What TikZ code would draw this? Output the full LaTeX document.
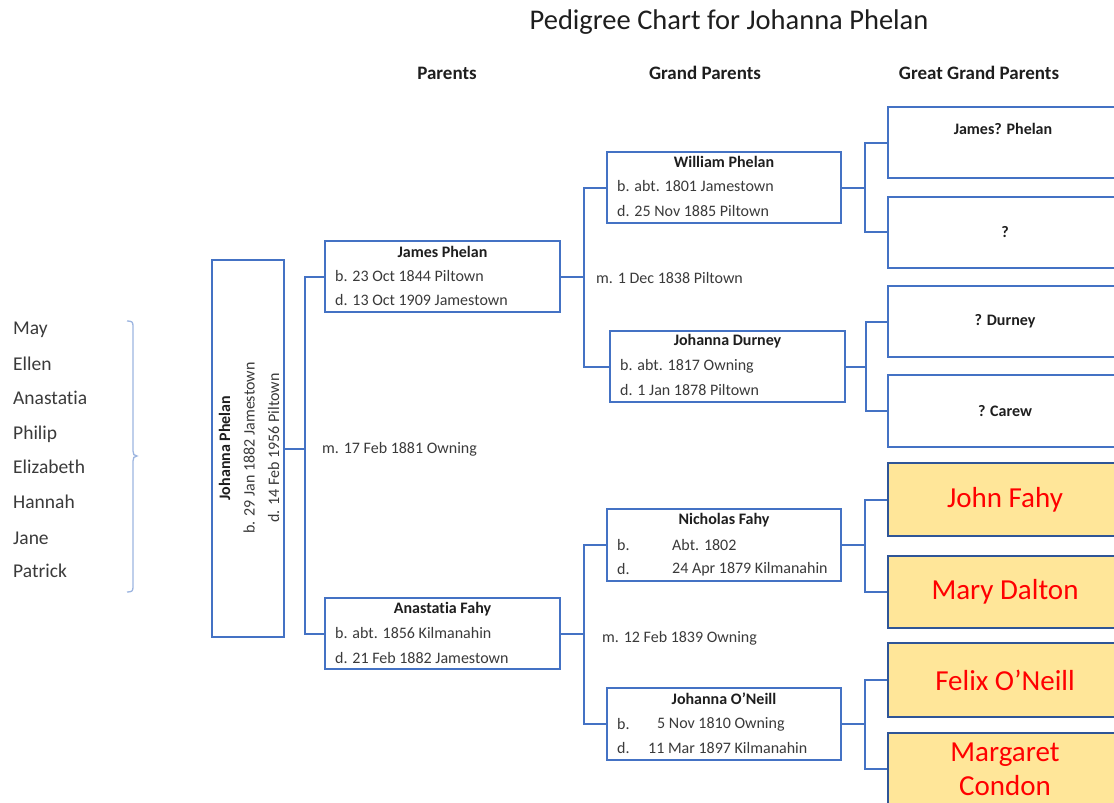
\documentclass[tikz,border=0pt]{standalone}
\usepackage{fontspec}
\setmainfont{Carlito}[Ligatures=NoCommon]
\usetikzlibrary{calc}
\definecolor{boxblue}{HTML}{4472C4}
\definecolor{braceblue}{HTML}{9DB5E0}
\definecolor{ink}{HTML}{1E1E1E}
\definecolor{soft}{HTML}{3A3A3A}
\definecolor{gold}{HTML}{FFE699}
\definecolor{navy}{HTML}{2F5597}
\tikzset{
  pbox/.style={draw=boxblue, line width=2pt, minimum width=235pt, minimum height=71pt, inner sep=0pt, fill=white},
  gbox/.style={pbox, fill=gold, draw=navy, text=red, font=\fontsize{29}{34}\selectfont, align=center},
  qbox/.style={pbox, text=ink, font=\fontsize{16}{18}\selectfont\bfseries},
  link/.style={draw=boxblue, line width=2pt},
  pname/.style={font=\fontsize{16}{18}\selectfont\bfseries, text=ink, inner sep=0pt, anchor=center},
  pline/.style={font=\fontsize{16}{18}\selectfont, text=soft, inner sep=0pt, anchor=west},
  head/.style={font=\fontsize{19}{21}\selectfont\bfseries, text=ink, inner sep=0pt},
  child/.style={font=\fontsize{19.5}{22}\selectfont, text=soft, inner sep=0pt, anchor=west},
}
\begin{document}
\begin{tikzpicture}[x=1pt, y=-1pt]
\useasboundingbox (0,0) rectangle (1114,803);
\clip (0,0) rectangle (1114,803);

% title and column headings
\node[font=\fontsize{28.5}{32}\selectfont, text=ink, inner sep=0pt] (title) at (729,22) {Pedigree Chart for Johanna Phelan};
\node[head] (hp) at (447,73) {Parents};
\node[head] (hg) at (705,73) {Grand Parents};
\node[head] (hgg) at (979,73) {Great Grand Parents};

% children
\node[child] (c1) at (13,330) {May};
\node[child] (c2) at (13,364) {Ellen};
\node[child] (c3) at (13,398) {Anastatia};
\node[child] (c4) at (13,434) {Philip};
\node[child] (c5) at (13,467) {Elizabeth};
\node[child] (c6) at (13,502) {Hannah};
\node[child] (c7) at (13,538) {Jane};
\node[child] (c8) at (13,571) {Patrick};
\draw[braceblue, line width=1.3pt] (127,321) .. controls (132,321) and (133,322) .. (133,326)
  -- (133,451) .. controls (133,454) and (134,456) .. (137,456)
  .. controls (134,456) and (133,458) .. (133,461)
  -- (133,587) .. controls (133,591) and (132,592) .. (127,592);

% subject
\node[pbox, minimum width=72pt, minimum height=377pt] (main) at (248,448.5) {};
\node[rotate=90, align=center, inner sep=0pt, font=\fontsize{16}{24.5}\selectfont, text=soft] (maintext) at (249,448)
  {{\color{ink}\bfseries Johanna Phelan}\\b. 29 Jan 1882 Jamestown\\d. 14 Feb 1956 Piltown};

% parents
\node[pbox] (jp) at (442.5,276.5) {};
\node[pname] at (442.5,252) {James Phelan};
\node[pline] at (335,276) {b. 23 Oct 1844 Piltown};
\node[pline] at (335,300) {d. 13 Oct 1909 Jamestown};

\node[pbox] (af) at (442.5,633.5) {};
\node[pname] at (442.5,609) {Anastatia Fahy};
\node[pline] at (335,633) {b. abt. 1856 Kilmanahin};
\node[pline] at (335,658) {d. 21 Feb 1882 Jamestown};

% grandparents
\node[pbox, minimum width=234pt] (wp) at (724,187.5) {};
\node[pname] at (724,162) {William Phelan};
\node[pline] at (617,186) {b. abt. 1801 Jamestown};
\node[pline] at (617,211) {d. 25 Nov 1885 Piltown};

\node[pbox] (jd) at (727.5,366.5) {};
\node[pname] at (727.5,341) {Johanna Durney};
\node[pline] at (620,366) {b. abt. 1817 Owning};
\node[pline] at (620,390) {d. 1 Jan 1878 Piltown};

\node[pbox, minimum width=234pt, minimum height=72pt] (nf) at (724,545) {};
\node[pname] at (724,520) {Nicholas Fahy};
\node[pline] at (617,545) {b.};
\node[pline] at (672,545) {Abt. 1802};
\node[pline] at (617,569) {d.};
\node[pline] at (672,569) {24 Apr 1879 Kilmanahin};

\node[pbox, minimum width=234pt, minimum height=72pt] (jo) at (724,724) {};
\node[pname] at (724,699) {Johanna O’Neill};
\node[pline] at (617,724) {b.};
\node[pline] at (657,724) {5 Nov 1810 Owning};
\node[pline] at (617,748) {d.};
\node[pline] at (648,748) {11 Mar 1897 Kilmanahin};

% great grandparents
\node[pbox, minimum width=234pt] (g1) at (1005,142.5) {};
\node[pname] at (1003,129) {James? Phelan};
\node[qbox, minimum width=234pt] (g2) at (1005,232) {?};
\node[qbox, minimum width=234pt] (g3) at (1005,321.5) {? Durney};
\node[qbox, minimum width=234pt, minimum height=72pt] (g4) at (1005,411) {? Carew};
\node[gbox, minimum width=234pt, minimum height=73pt] (g5) at (1005,499.5) {John Fahy};
\node[gbox, minimum width=234pt, minimum height=72pt] (g6) at (1005,592) {Mary Dalton};
\node[gbox, minimum width=234pt, minimum height=74pt] (g7) at (1005,680) {Felix O’Neill};
\node[gbox, minimum width=234pt, minimum height=72pt] (g8) at (1005,769) {Margaret\\Condon};

% marriages
\node[pline] (m1) at (322,449) {m. 17 Feb 1881 Owning};
\node[pline] (m2) at (596,278) {m. 1 Dec 1838 Piltown};
\node[pline] (m3) at (602,638) {m. 12 Feb 1839 Owning};

% connectors
\coordinate (f1) at (305,448.5);
\draw[link] (main.east) -- (f1);
\draw[link] (jp.west) -| (f1);
\draw[link] (af.west) -| (f1);

\coordinate (f2) at (584,276.5);
\draw[link] (jp.east) -- (f2);
\draw[link] (wp.west) -| (f2);
\draw[link] (jd.west) -| (f2);

\coordinate (f3) at (584,633.5);
\draw[link] (af.east) -- (f3);
\draw[link] (nf.west) -| (f3);
\draw[link] (jo.west) -| (f3);

\coordinate (f4) at (865,187.5);
\draw[link] (wp.east) -- (f4);
\draw[link] (g1.west) -| (f4);
\draw[link] (g2.west) -| (f4);

\coordinate (f5) at (866,366.5);
\draw[link] (jd.east) -- (f5);
\draw[link] (g3.west) -| (f5);
\draw[link] (g4.west) -| (f5);

\coordinate (f6) at (865,545);
\draw[link] (nf.east) -- (f6);
\draw[link] (g5.west) -| (f6);
\draw[link] (g6.west) -| (f6);

\coordinate (f7) at (865,724);
\draw[link] (jo.east) -- (f7);
\draw[link] (g7.west) -| (f7);
\draw[link] (g8.west) -| (f7);
\end{tikzpicture}
\end{document}
